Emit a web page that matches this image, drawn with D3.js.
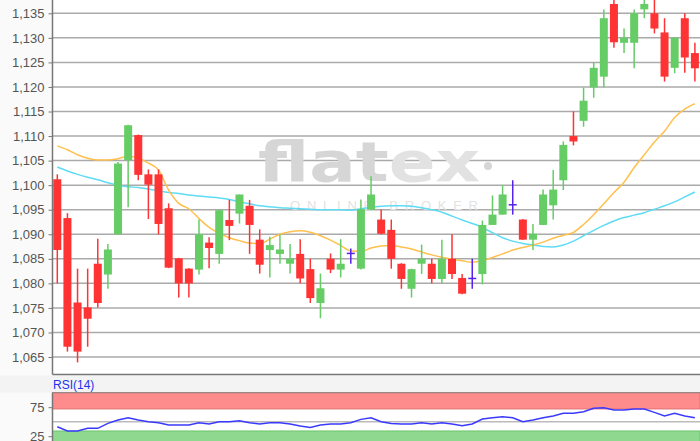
<!DOCTYPE html>
<html lang="en">
<head>
<meta charset="UTF-8">
<title>flatex candlestick chart</title>
<script src="https://d3js.org/d3.v7.min.js"></script>
<style>
    body { margin: 0; background: #fff; }
    svg { display: block; font-family: "Liberation Sans", Arial, sans-serif; }
</style>
</head>
<body>
<div id="chart"></div>
<script>
// OHLC per session
const opens  = [1.1012,1.0933,1.0761,1.0751,1.0840,1.0818,1.0900,1.1051,1.1102,1.1022,
                1.1022,1.0953,1.0851,1.0830,1.0828,1.0883,1.0860,1.0929,1.0942,1.0958,
                1.0889,1.0868,1.0860,1.0840,1.0860,1.0829,1.0760,1.0850,1.0828,1.0861,
                1.0830,1.0950,1.0930,1.0909,1.0840,1.0789,1.0840,1.0840,1.0809,1.0850,
                1.0811,1.0810,1.0819,1.0919,1.0940,1.0960,1.0930,1.0889,1.0919,1.0959,
                1.1010,1.1100,1.1131,1.1199,1.1221,1.1369,1.1290,1.1290,1.1358,1.1350,
                1.1311,1.1239,1.1340,1.1269];
const highs  = [1.1022,1.0943,1.0830,1.0830,1.0891,1.0880,1.1047,1.1123,1.1103,1.1032,
                1.1032,1.0963,1.0852,1.0831,1.0930,1.0894,1.0950,1.0970,1.0981,1.0970,
                1.0910,1.0895,1.0900,1.0880,1.0890,1.0850,1.0820,1.0861,1.0890,1.0871,
                1.0971,1.1018,1.0950,1.0930,1.0841,1.0830,1.0879,1.0850,1.0889,1.0900,
                1.0819,1.0850,1.0928,1.0979,1.1000,1.1010,1.0931,1.0921,1.0991,1.1031,
                1.1089,1.1150,1.1199,1.1250,1.1358,1.1380,1.1319,1.1358,1.1380,1.1380,
                1.1340,1.1301,1.1350,1.1290];
const lows   = [1.0800,1.0661,1.0639,1.0671,1.0751,1.0789,1.0899,1.0955,1.1010,1.0931,
                1.0900,1.0831,1.0771,1.0771,1.0818,1.0831,1.0840,1.0888,1.0922,1.0860,
                1.0820,1.0812,1.0840,1.0820,1.0800,1.0760,1.0729,1.0821,1.0812,1.0840,
                1.0828,1.0950,1.0900,1.0830,1.0789,1.0771,1.0819,1.0800,1.0800,1.0809,
                1.0778,1.0789,1.0798,1.0919,1.0940,1.0940,1.0889,1.0868,1.0919,1.0930,
                1.0990,1.1081,1.1119,1.1178,1.1199,1.1280,1.1269,1.1238,1.1340,1.1309,
                1.1211,1.1228,1.1229,1.1211];
const closes = [1.0868,1.0671,1.0661,1.0728,1.0760,1.0869,1.1044,1.1122,1.1021,1.1001,
                1.0921,1.0832,1.0800,1.0800,1.0900,1.0872,1.0949,1.0917,1.0981,1.0919,
                1.0838,1.0878,1.0869,1.0850,1.0810,1.0770,1.0790,1.0828,1.0840,1.0861,
                1.0951,1.0981,1.0901,1.0850,1.0809,1.0829,1.0850,1.0809,1.0850,1.0819,
                1.0779,1.0810,1.0919,1.0940,1.0981,1.0960,1.0889,1.0901,1.0981,1.0991,
                1.1082,1.1089,1.1172,1.1239,1.1340,1.1291,1.1300,1.1350,1.1369,1.1319,
                1.1221,1.1300,1.1260,1.1238];

// moving averages (orange = short, cyan = long)
const maShort = [1.1080,1.1072,1.1062,1.1055,1.1051,1.1051,1.1054,1.1059,1.1055,1.1045,
                 1.1031,1.0990,1.0963,1.0952,1.0932,1.0914,1.0902,1.0893,1.0887,1.0882,
                 1.0881,1.0890,1.0900,1.0905,1.0907,1.0904,1.0897,1.0888,1.0877,1.0866,
                 1.0865,1.0872,1.0876,1.0877,1.0874,1.0870,1.0864,1.0858,1.0853,1.0849,
                 1.0846,1.0843,1.0846,1.0853,1.0860,1.0868,1.0873,1.0878,1.0884,1.0892,
                 1.0898,1.0904,1.0920,1.0940,1.0962,1.0985,1.1006,1.1036,1.1062,1.1088,
                 1.1110,1.1138,1.1155,1.1166];
const maLong  = [1.1037,1.1029,1.1022,1.1016,1.1011,1.1005,1.1000,1.0997,1.0995,1.0992,
                 1.0988,1.0985,1.0983,1.0980,1.0978,1.0976,1.0974,1.0971,1.0966,1.0962,
                 1.0958,1.0956,1.0954,1.0953,1.0952,1.0951,1.0950,1.0950,1.0950,1.0949,
                 1.0952,1.0955,1.0957,1.0958,1.0958,1.0957,1.0954,1.0950,1.0945,1.0937,
                 1.0929,1.0922,1.0914,1.0903,1.0893,1.0886,1.0881,1.0878,1.0875,1.0874,
                 1.0878,1.0886,1.0897,1.0908,1.0918,1.0927,1.0934,1.0939,1.0944,1.0951,
                 1.0958,1.0966,1.0976,1.0986];

const rsi = [41.4,33.9,33.9,38.5,38.5,47.1,52.9,56.9,52.9,50.0,
             48.3,44.3,44.3,44.3,48.3,46.0,50.0,50.0,51.7,48.3,
             46.0,48.3,48.3,46.0,42.5,40.2,44.3,46.0,46.0,48.3,
             54.0,56.9,50.0,47.1,46.0,46.0,48.3,46.0,48.3,46.0,
             43.1,46.0,54.6,56.9,58.6,56.9,50.0,52.9,56.9,59.8,
             64.4,64.4,67.2,73.0,74.1,70.1,70.1,71.8,71.8,66.1,
             59.8,64.4,59.8,56.9];

const priceTicks = [1.065,1.070,1.075,1.080,1.085,1.090,1.095,1.100,1.105,1.110,1.115,1.120,1.125,1.130,1.135];
const rsiTicks = [25, 75];
const rsiBands = [72, 34];

const W = 700, H = 441;
const left = 52.5;
const mainBottom = 374.5;
const rsiTop = 392.7, rsiBottom = 450.7;

const svg = d3.select("#chart").append("svg")
    .attr("width", W).attr("height", H);

svg.append("rect").attr("width", W).attr("height", H).attr("fill", "#fafafa");

const x = d3.scaleLinear().domain([0, opens.length - 1]).range([57.3, 694.9]);
const y = d3.scaleLinear().domain([1.06144, 1.13771]).range([mainBottom, 0]);
const yr = d3.scaleLinear().domain([0, 100]).range([rsiBottom, rsiTop]);

const fmt = d3.format(",.3f");
const tickFmt = v => fmt(v).replace(".", ",");

// ---- main panel ----
svg.append("rect").attr("x", left).attr("y", 0)
    .attr("width", W - left).attr("height", mainBottom)
    .attr("fill", "#fff");

// strip between the panels
svg.append("rect").attr("x", 0).attr("y", mainBottom + 1)
    .attr("width", W).attr("height", rsiTop - mainBottom - 1)
    .attr("fill", "#f3f3f3");

const yAxis = d3.axisLeft(y).tickValues(priceTicks).tickSize(4).tickFormat(tickFmt);
const gy = svg.append("g").attr("transform", `translate(${left},0)`).call(yAxis);
gy.select(".domain").remove();
gy.selectAll(".tick line").attr("stroke", "#777");
gy.selectAll(".tick text").attr("fill", "#555").attr("font-size", 13)
    .attr("x", -8).attr("font-family", "Liberation Sans, Arial, sans-serif");

svg.append("g").selectAll("line").data(priceTicks).join("line")
    .attr("x1", left).attr("x2", W)
    .attr("y1", d => y(d)).attr("y2", d => y(d))
    .attr("stroke", "#aaa").attr("stroke-width", 1.5);

// watermark
const wm = svg.append("g").attr("pointer-events", "none");
const wt = wm.append("text").attr("x", 258).attr("y", 181)
    .attr("textLength", 222).attr("lengthAdjust", "spacingAndGlyphs")
    .attr("font-family", "DejaVu Sans, sans-serif").attr("font-weight", "bold")
    .attr("font-size", 56);
wt.append("tspan").attr("fill", "#d6d6d6").text("flat");
wt.append("tspan").attr("fill", "#e2e2e2").text("ex");
wm.append("circle").attr("cx", 488).attr("cy", 166).attr("r", 4).attr("fill", "#d6d6d6");
wm.append("text").attr("x", 290).attr("y", 210)
    .attr("textLength", 188).attr("lengthAdjust", "spacing")
    .attr("font-size", 13).attr("fill", "#e2e2e2").text("ONLINE BROKER");

// moving averages
const line = d3.line().x((d, i) => x(i)).y(d => y(d)).curve(d3.curveMonotoneX);
svg.append("path").datum(maLong).attr("d", line)
    .attr("fill", "none").attr("stroke", "#5fdcf5").attr("stroke-width", 1.5);
svg.append("path").datum(maShort).attr("d", line)
    .attr("fill", "none").attr("stroke", "#ffc04d").attr("stroke-width", 1.5);

// candles
const candles = opens.map((o, i) => ({ i, o, h: highs[i], l: lows[i], c: closes[i] }));
const colorOf = d => d.c > d.o ? "#66cc66" : d.c < d.o ? "#ff3333" : "#5522ee";
const bw = 8;

const cg = svg.append("g").selectAll("g").data(candles).join("g");
cg.append("line")
    .attr("x1", d => x(d.i)).attr("x2", d => x(d.i))
    .attr("y1", d => y(d.h)).attr("y2", d => y(d.l))
    .attr("stroke", colorOf).attr("stroke-width", 1.5);
cg.filter(d => d.c !== d.o).append("rect")
    .attr("x", d => x(d.i) - bw / 2)
    .attr("y", d => y(Math.max(d.o, d.c)))
    .attr("width", bw)
    .attr("height", d => Math.max(1, Math.abs(y(d.o) - y(d.c))))
    .attr("fill", colorOf);
cg.filter(d => d.c === d.o).append("line")
    .attr("x1", d => x(d.i) - bw / 2).attr("x2", d => x(d.i) + bw / 2)
    .attr("y1", d => y(d.o)).attr("y2", d => y(d.o))
    .attr("stroke", colorOf).attr("stroke-width", 1.5);

// frame
svg.append("line").attr("x1", left).attr("x2", left).attr("y1", 0).attr("y2", mainBottom)
    .attr("stroke", "#777").attr("stroke-width", 1.5);
svg.append("line").attr("x1", left).attr("x2", W).attr("y1", mainBottom).attr("y2", mainBottom)
    .attr("stroke", "#777").attr("stroke-width", 1.5);

// ---- RSI panel ----
svg.append("text").attr("x", 53).attr("y", 389).attr("font-size", 12)
    .attr("fill", "#2233ee").text("RSI(14)");

svg.append("rect").attr("x", left).attr("y", rsiTop)
    .attr("width", W - left).attr("height", rsiBottom - rsiTop).attr("fill", "#fff");
svg.append("rect").attr("x", left).attr("y", rsiTop)
    .attr("width", W - left).attr("height", yr(rsiBands[0]) - rsiTop)
    .attr("fill", "#ff8c8c").attr("stroke", "#e07070");
svg.append("rect").attr("x", left).attr("y", yr(rsiBands[1]))
    .attr("width", W - left).attr("height", rsiBottom - yr(rsiBands[1]))
    .attr("fill", "#8fd88f").attr("stroke", "#6cc46c");
svg.append("line").attr("x1", left).attr("x2", W)
    .attr("y1", yr(50)).attr("y2", yr(50))
    .attr("stroke", "#bbb").attr("stroke-width", 1.5);

const ra = d3.axisLeft(yr).tickValues(rsiTicks).tickSize(4);
const gr = svg.append("g").attr("transform", `translate(${left},0)`).call(ra);
gr.select(".domain").remove();
gr.selectAll(".tick line").attr("stroke", "#777");
gr.selectAll(".tick text").attr("fill", "#555").attr("font-size", 13).attr("x", -8)
    .attr("font-family", "Liberation Sans, Arial, sans-serif");

svg.append("path").datum(rsi)
    .attr("d", d3.line().x((d, i) => x(i)).y(d => yr(d)))
    .attr("fill", "none").attr("stroke", "#3a3aff").attr("stroke-width", 1.5);

svg.append("line").attr("x1", left).attr("x2", left).attr("y1", rsiTop).attr("y2", H)
    .attr("stroke", "#777").attr("stroke-width", 1.5);
svg.append("line").attr("x1", left).attr("x2", W).attr("y1", rsiTop).attr("y2", rsiTop)
    .attr("stroke", "#888").attr("stroke-width", 1);
</script>
</body>
</html>
